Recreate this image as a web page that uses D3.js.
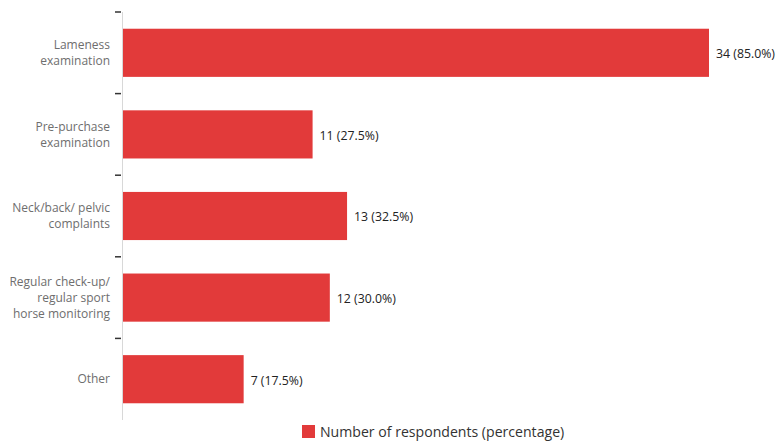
<!DOCTYPE html>
<html>
<head>
<meta charset="utf-8">
<script src="https://cdn.jsdelivr.net/npm/d3@7"></script>
<style>
  html, body { margin: 0; padding: 0; background: #fff; }
  svg { display: block; }
</style>
</head>
<body>
<svg id="chart" width="778" height="444"></svg>
<script>
// Reasons for examination, number of respondents (n = 40)
const categories = [
  ["Lameness", "examination"],
  ["Pre-purchase", "examination"],
  ["Neck/back/ pelvic", "complaints"],
  ["Regular check-up/", "regular sport", "horse monitoring"],
  ["Other"]
];
const counts = [34, 11, 13, 12, 7];
const percentages = [85.0, 27.5, 32.5, 30.0, 17.5];
const seriesName = "Number of respondents (percentage)";

(function draw() {
  const svg = d3.select("#chart");
  const barColor = "#e23a3a";
  const plotLeft = 123, plotTop = 12, plotBottom = 420;

  const keys = categories.map((c, i) => i);
  const y = d3.scaleBand().domain(keys).range([plotTop, plotBottom])
    .paddingInner(0.41).paddingOuter(0.205);
  const x = d3.scaleLinear().domain([0, 34]).range([plotLeft, 709]);

  // axis line
  svg.append("line")
    .attr("x1", plotLeft - 0.5).attr("x2", plotLeft - 0.5)
    .attr("y1", plotTop).attr("y2", plotBottom)
    .attr("stroke", "#d8d8d8").attr("stroke-width", 1);

  // tick marks at band boundaries
  const boundaries = keys.map(i => plotTop + i * (plotBottom - plotTop) / keys.length);
  svg.selectAll("line.tick").data(boundaries).join("line")
    .attr("class", "tick")
    .attr("x1", 115).attr("x2", 121)
    .attr("y1", d => d).attr("y2", d => d)
    .attr("stroke", "#333").attr("stroke-width", 1.5);

  // bars
  svg.selectAll("rect.bar").data(keys).join("rect")
    .attr("class", "bar")
    .attr("x", plotLeft)
    .attr("y", i => y(i))
    .attr("width", i => x(counts[i]) - plotLeft)
    .attr("height", y.bandwidth())
    .attr("fill", barColor);

  // value labels
  svg.selectAll("text.val").data(keys).join("text")
    .attr("class", "val")
    .attr("x", i => x(counts[i]) + 7)
    .attr("y", i => y(i) + y.bandwidth() / 2 + 1)
    .attr("dy", "0.35em")
    .attr("font-family", "Open Sans, sans-serif")
    .attr("font-size", 12.3)
    .attr("fill", "#222")
    .text(i => `${counts[i]} (${percentages[i].toFixed(1)}%)`);

  // category labels
  const lineH = 16;
  const cat = svg.selectAll("text.cat").data(keys).join("text")
    .attr("class", "cat")
    .attr("text-anchor", "end")
    .attr("font-family", "Open Sans, sans-serif")
    .attr("font-size", 12)
    .attr("fill", "#6e6e6e");
  cat.each(function(i) {
    const lines = categories[i];
    const cy = y(i) + y.bandwidth() / 2 - (lines.length - 1) * lineH / 2;
    d3.select(this).selectAll("tspan").data(lines).join("tspan")
      .attr("x", 110)
      .attr("y", (d, k) => cy + k * lineH)
      .attr("dy", "0.35em")
      .text(d => d);
  });

  // legend
  const lg = svg.append("g").attr("transform", "translate(302,425)");
  lg.append("rect").attr("width", 13).attr("height", 13).attr("fill", barColor);
  lg.append("text").attr("x", 18).attr("y", 7).attr("dy", "0.35em")
    .attr("font-family", "Open Sans, sans-serif").attr("font-size", 14.1).attr("fill", "#333")
    .text(seriesName);
})();
</script>
</body>
</html>
